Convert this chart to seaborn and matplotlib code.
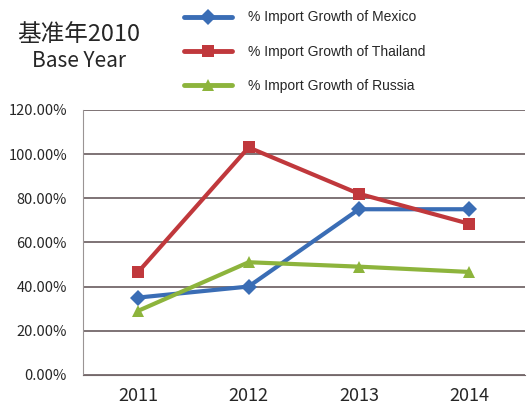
import pandas as pd
import seaborn as sns
import matplotlib.pyplot as plt
from matplotlib.ticker import PercentFormatter

years = ["2011", "2012", "2013", "2014"]
mexico = [0.35, 0.40, 0.75, 0.75]
thailand = [0.466, 1.03, 0.82, 0.684]
russia = [0.29, 0.51, 0.49, 0.466]
series_names = ["% Import Growth of Mexico", "% Import Growth of Thailand", "% Import Growth of Russia"]

rows = []
for name, vals in zip(series_names, [mexico, thailand, russia]):
    for i, (y, v) in enumerate(zip(years, vals)):
        rows.append({"pos": i, "year": y, "value": v, "series": name})
data = pd.DataFrame(rows)

sns.set_style("white")
plt.rcParams['font.family'] = ['Noto Sans CJK SC', 'DejaVu Sans']

fig = plt.figure(figsize=(5.27, 4.07), dpi=100)
ax = fig.add_axes([0.1575, 0.079, 0.838, 0.651])

palette = {series_names[0]: "#3a6db5", series_names[1]: "#c0383c", series_names[2]: "#8db43c"}
markers = {series_names[0]: "D", series_names[1]: "s", series_names[2]: "^"}
sns.lineplot(data=data, x="pos", y="value", hue="series", style="series",
             palette=palette, markers=markers, dashes=False, linewidth=3,
             markersize=8, markeredgewidth=0, ax=ax, legend=False)

ax.set_xlim(-0.5, 3.5)
ax.set_ylim(0, 1.2)
ax.set_yticks([0, 0.2, 0.4, 0.6, 0.8, 1.0, 1.2])
ax.yaxis.set_major_formatter(PercentFormatter(1.0, decimals=2))
ax.set_xticks(range(4))
ax.set_xticklabels(years, fontsize=13, fontweight="medium")
for lab in ax.get_yticklabels():
    lab.set_fontweight("medium")
ax.tick_params(axis="y", labelsize=10.5, pad=8)
ax.tick_params(axis="x", pad=5)
ax.grid(axis="y", color="#74686a", linewidth=1.3)
ax.set_axisbelow(True)
for s in ["top", "right"]:
    ax.spines[s].set_visible(False)
ax.spines["left"].set_color("#9a9494")
ax.spines["bottom"].set_color("#74686a")
ax.set_xlabel("")
ax.set_ylabel("")

# legend
handles = [plt.Line2D([], [], color=palette[n], marker=markers[n], linewidth=3.5,
                      markersize=8, markeredgewidth=0) for n in series_names]
fig.legend(handles, series_names, loc="upper left", bbox_to_anchor=(0.326, 1.005),
           frameon=False, prop={"family": "Liberation Sans", "size": 10},
           handlelength=3.4, handletextpad=1.2, labelspacing=1.45)

fig.text(0.15, 0.915, "基准年2010", ha="center", va="center", fontsize=17, fontweight="medium")
fig.text(0.15, 0.85, "Base Year", ha="center", va="center", fontsize=15, fontweight="medium")

fig.savefig("out.png", dpi=100)
